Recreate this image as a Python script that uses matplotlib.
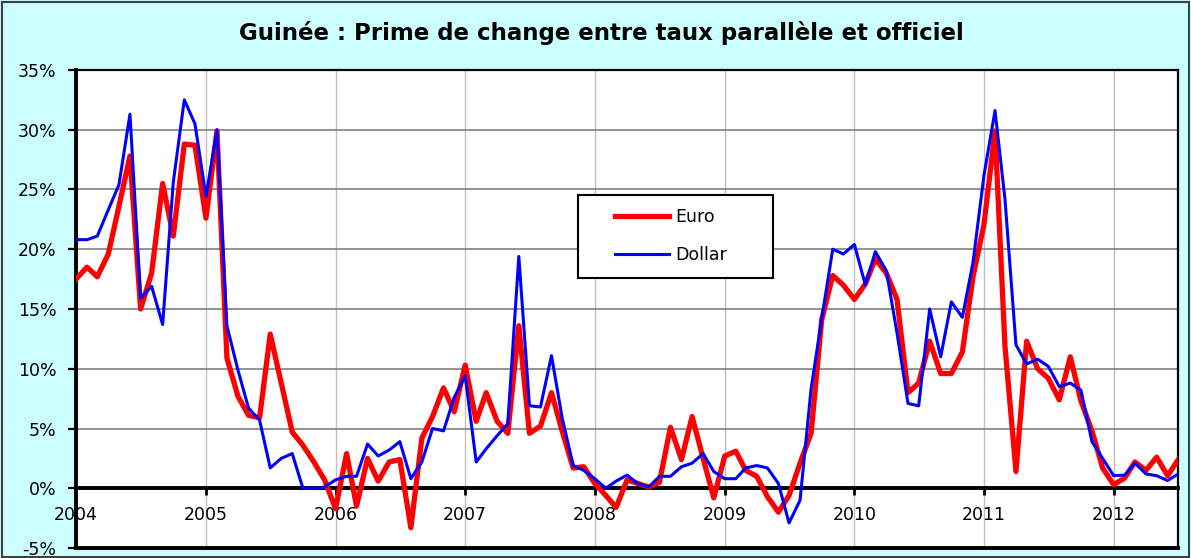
# -*-coding:Utf-8 -*
#######################################################################
# Importations :
from matplotlib import pyplot as plt
from matplotlib.patches import Rectangle
import matplotlib.dates as mdates
import pandas as pd

#######################################################################
# Donnees (prime de change en %, mensuel de janvier 2004 a juillet 2012) :

euro = [
    17.5, 18.5, 17.7, 19.6, 23.6, 27.8, 15.0, 18.0, 25.5, 21.1, 28.8, 28.7,
    22.6, 29.9, 10.9, 7.7, 6.1, 5.9, 12.9, 8.8, 4.7, 3.6, 2.2, 0.7,
    -1.7, 2.9, -1.5, 2.5, 0.6, 2.2, 2.4, -3.3, 4.2, 6.0, 8.4, 6.4,
    10.3, 5.6, 8.0, 5.6, 4.6, 13.6, 4.6, 5.2, 8.0, 4.8, 1.7, 1.8,
    0.4, -0.6, -1.6, 0.7, 0.4, 0.1, 0.5, 5.1, 2.4, 6.0, 2.5, -0.8,
    2.7, 3.1, 1.5, 1.0, -0.7, -2.0, -0.6, 2.1, 4.6, 14.1, 17.8, 17.0,
    15.8, 17.1, 19.2, 18.0, 15.8, 8.0, 8.8, 12.3, 9.6, 9.6, 11.4, 17.7,
    22.1, 29.9, 11.9, 1.4, 12.3, 10.0, 9.2, 7.4, 11.0, 7.3, 4.8, 1.7,
    0.3, 0.85, 2.2, 1.5, 2.6, 1.05, 2.4,
]

dollar = [
    20.8, 20.8, 21.1, 23.3, 25.4, 31.3, 15.9, 16.9, 13.7, 25.6, 32.5, 30.5,
    24.4, 30.0, 13.6, 9.9, 6.7, 5.7, 1.7, 2.5, 2.9, 0.0, 0.0, 0.1,
    0.7, 1.0, 1.0, 3.7, 2.7, 3.2, 3.9, 0.8, 2.2, 5.0, 4.8, 7.6,
    9.4, 2.2, 3.3, 4.4, 5.4, 19.4, 6.9, 6.8, 11.1, 5.9, 1.9, 1.5,
    0.8, 0.0, 0.6, 1.1, 0.4, 0.1, 1.0, 1.0, 1.8, 2.1, 2.9, 1.4,
    0.8, 0.8, 1.7, 1.9, 1.7, 0.4, -2.9, -1.0, 8.3, 14.2, 20.0, 19.6,
    20.4, 17.0, 19.8, 18.2, 13.0, 7.1, 6.9, 15.0, 11.0, 15.6, 14.3, 18.9,
    26.2, 31.6, 24.2, 12.0, 10.4, 10.8, 10.2, 8.5, 8.8, 8.2, 3.9, 2.5,
    1.05, 1.1, 2.1, 1.2, 1.05, 0.65, 1.2,
]

y_ticks = [-5, 0, 5, 10, 15, 20, 25, 30, 35]

title = "Guinée : Prime de change entre taux parallèle et officiel"

#######################################################################
# Trace :

def main() -> int:
    dates = pd.date_range("2004-01-01", periods=len(euro), freq="MS")

    plt.rcParams['font.family'] = ['DejaVu Sans']
    fig = plt.figure(figsize=(11.91, 5.58), dpi=100, facecolor="#CCFFFF")
    ax = fig.add_axes([0.0638, 0.0179, 0.9255, 0.8567])
    ax.set_facecolor("white")

    # courbes :
    ax.plot(dates, euro, color="#FF0000", lw=3.8, label="Euro", zorder=3)
    ax.plot(dates, dollar, color="#0000FF", lw=2.2, label="Dollar",
            zorder=3.5)

    # axes :
    ax.set_xlim(dates[0], dates[-1])
    ax.set_ylim(-5, 35)
    ax.set_yticks(y_ticks)
    ax.set_yticklabels([f"{v}%" for v in y_ticks])
    ax.xaxis.set_major_locator(mdates.YearLocator())
    ax.xaxis.set_major_formatter(mdates.DateFormatter("%Y"))

    ax.yaxis.grid(True, color="#808080", lw=1.2, zorder=1)
    ax.xaxis.grid(True, color="#C0C0C0", lw=1.0, zorder=1)
    ax.set_axisbelow(True)

    ax.spines['bottom'].set_position(('data', 0))
    ax.spines['bottom'].set_linewidth(2.8)
    ax.spines['bottom'].set_zorder(2.5)
    ax.spines['left'].set_linewidth(2.8)
    ax.spines['top'].set_linewidth(1.6)
    ax.spines['right'].set_linewidth(1.6)
    ax.axhline(-5, color="black", lw=2.8, clip_on=False, zorder=2.5)

    ax.tick_params(axis='x', direction='out', length=5, width=2,
                   pad=8, labelsize=12.5)
    ax.tick_params(axis='y', direction='out', length=6, width=1.6,
                   pad=8, labelsize=12.5)

    # legende :
    ax.add_patch(Rectangle((0.455, 0.565), 0.177, 0.173,
                           transform=ax.transAxes, facecolor="white",
                           edgecolor="black", lw=1.5, zorder=4))
    leg = ax.legend(loc="center left", bbox_to_anchor=(0.489, 0.652),
                    frameon=False, borderpad=0, borderaxespad=0,
                    handlelength=3.1, handletextpad=0.35,
                    labelspacing=1.15, fontsize=12.5)
    leg.set_zorder(5)

    # titre :
    fig.text(0.505, 0.94, title, ha="center", va="center",
             fontsize=16.5, fontweight="bold")

    # cadre du graphique :
    fig.patches.append(Rectangle((0.002, 0.002), 0.996, 0.994,
                                 transform=fig.transFigure, fill=False,
                                 edgecolor="#404040", lw=1.5))

    fig.savefig("out.png", dpi=100, facecolor=fig.get_facecolor())
    return 0

#######################################################################
if __name__ == "__main__":
    main()
